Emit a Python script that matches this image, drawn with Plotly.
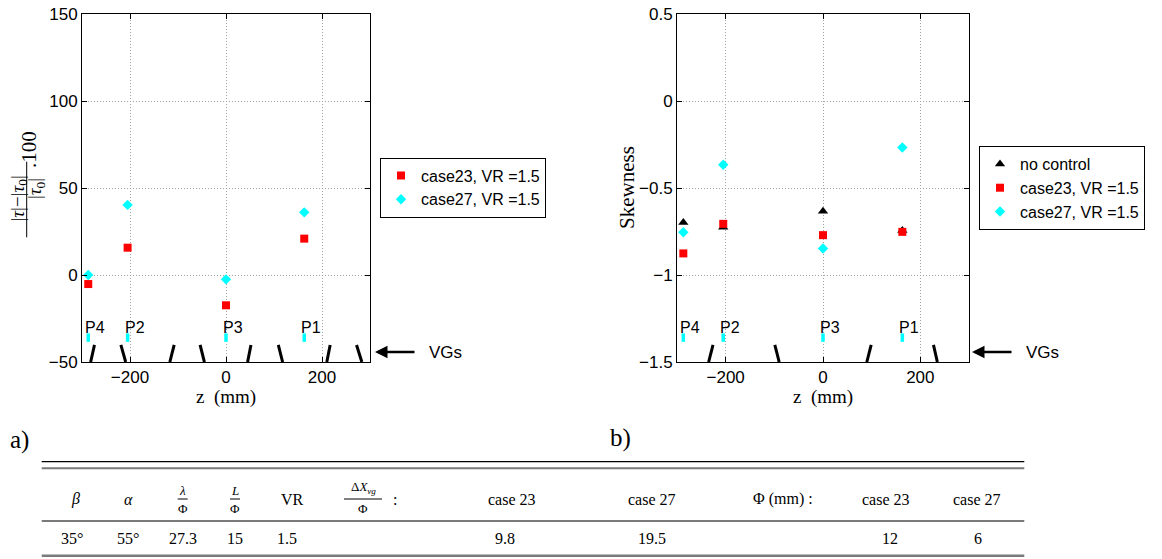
import plotly.graph_objects as go

W, H = 1162, 559

# ---------------- data ----------------
z_probe = [-287, -205, 0, 163]
probe_labels = ["P4", "P2", "P3", "P1"]

tau_case23 = [-5.2, 15.7, -17.4, 20.9]
tau_case27 = [0.0, 40.3, -2.5, 36.0]

skew_noctrl = [-0.698, -0.725, -0.633, -0.744]
skew_case23 = [-0.876, -0.706, -0.771, -0.752]
skew_case27 = [-0.754, -0.366, -0.848, -0.267]

# VG vane positions (z at top, z at wall)
vg_left_top = [-274, -219, -108, -54, 52, 109, 217, 272]
vg_left_bot = [-282, -209, -117, -45, 45, 118, 210, 283]
vg_right_top = [-226, -99, 99, 227]
vg_right_bot = [-235, -90, 90, 235]

# table
tab_header = ["β", "α", "λ/Φ", "L/Φ", "VR", "ΔX_vg/Φ :", "case 23", "case 27", "Φ (mm) :", "case 23", "case 27"]
tab_row = ["35°", "55°", "27.3", "15", "1.5", "", "9.8", "19.5", "", "12", "6"]

# ---------------- helpers ----------------
def px(x):
    return x / W

def py(y):
    return 1 - y / H

SANS = "Liberation Sans, Arial, sans-serif"
SERIF = "Liberation Serif, Times New Roman, serif"

fig = go.Figure()

fig.add_trace(go.Scatter(x=z_probe, y=tau_case23, mode="markers", name="case23, VR =1.5",
                         marker=dict(symbol="square", size=8, color="#ff0000"),
                         xaxis="x", yaxis="y", legend="legend"))
fig.add_trace(go.Scatter(x=z_probe, y=tau_case27, mode="markers", name="case27, VR =1.5",
                         marker=dict(symbol="diamond", size=8, color="#00ffff"),
                         xaxis="x", yaxis="y", legend="legend"))

fig.add_trace(go.Scatter(x=z_probe, y=skew_noctrl, mode="markers", name="no control",
                         marker=dict(symbol="triangle-up", size=9, color="black"),
                         xaxis="x2", yaxis="y2", legend="legend2"))
fig.add_trace(go.Scatter(x=z_probe, y=skew_case23, mode="markers", name="case23, VR =1.5",
                         marker=dict(symbol="square", size=8, color="#ff0000"),
                         xaxis="x2", yaxis="y2", legend="legend2"))
fig.add_trace(go.Scatter(x=z_probe, y=skew_case27, mode="markers", name="case27, VR =1.5",
                         marker=dict(symbol="diamond", size=8, color="#00ffff"),
                         xaxis="x2", yaxis="y2", legend="legend2"))

# probe markers
for xa, ya, yv in (("x", "y", -36), ("x2", "y2", -1.36)):
    fig.add_trace(go.Scatter(x=z_probe, y=[yv] * len(z_probe), mode="markers", showlegend=False,
                             marker=dict(symbol="line-ns", size=6,
                                         line=dict(width=3.5, color="#00ffff")),
                             xaxis=xa, yaxis=ya, hoverinfo="skip"))

def vg_xy(tops, bots, ytop, ybot):
    xs, ys = [], []
    for t, b in zip(tops, bots):
        xs += [t, b, None]
        ys += [ytop, ybot, None]
    return xs, ys

xs, ys = vg_xy(vg_left_top, vg_left_bot, -40.2, -50)
fig.add_trace(go.Scatter(x=xs, y=ys, mode="lines", line=dict(color="black", width=3),
                         showlegend=False, xaxis="x", yaxis="y", hoverinfo="skip"))
xs, ys = vg_xy(vg_right_top, vg_right_bot, -1.402, -1.5)
fig.add_trace(go.Scatter(x=xs, y=ys, mode="lines", line=dict(color="black", width=3),
                         showlegend=False, xaxis="x2", yaxis="y2", hoverinfo="skip"))

axis_common = dict(showline=True, linecolor="black", linewidth=1, mirror="ticks",
                   ticks="inside", ticklen=5, tickcolor="black", automargin=False,
                   ticklabeloverflow="allow",
                   showgrid=True, gridcolor="#a0a0a0", gridwidth=1, griddash="1px,2px",
                   zeroline=False, tickfont=dict(family=SANS, size=17, color="black"))

fig.update_layout(
    width=W, height=H,
    margin=dict(l=0, r=0, t=0, b=0, autoexpand=False),
    paper_bgcolor="white", plot_bgcolor="white",
    xaxis=dict(domain=[px(82), px(370)], range=[-300, 300], tickvals=[-200, 0, 200],
               anchor="y", **axis_common),
    yaxis=dict(domain=[py(362), py(14)], range=[-50, 150], tickvals=[-50, 0, 50, 100, 150],
               anchor="x", **axis_common),
    xaxis2=dict(domain=[px(677), px(969)], range=[-300, 300], tickvals=[-200, 0, 200],
                anchor="y2", **axis_common),
    yaxis2=dict(domain=[py(362), py(14)], range=[-1.5, 0.5], tickvals=[-1.5, -1, -0.5, 0, 0.5],
                ticktext=["\u22121.5", "\u22121", "\u22120.5", "0", "0.5"],
                anchor="x2", **axis_common),
    legend=dict(x=px(380), y=py(187.5), xanchor="left", yanchor="middle",
                bordercolor="black", borderwidth=1, bgcolor="white",
                font=dict(family=SANS, size=16, color="black"), tracegroupgap=0, itemwidth=30),
    legend2=dict(x=px(979), y=py(188), xanchor="left", yanchor="middle",
                 bordercolor="black", borderwidth=1, bgcolor="white",
                 font=dict(family=SANS, size=16, color="black"), tracegroupgap=0, itemwidth=30),
    showlegend=True,
)

ann = []
shapes = []

def text(x, y, t, font, angle=0, xanchor="center"):
    ann.append(dict(x=px(x), y=py(y), xref="paper", yref="paper", text=t, showarrow=False,
                    xanchor=xanchor, yanchor="middle", textangle=angle, font=font))

# probe labels
for xa, ya, yv in (("x", "y", -30.3), ("x2", "y2", -1.303)):
    for z, lab in zip(z_probe, probe_labels):
        ann.append(dict(x=z, y=yv, xref=xa, yref=ya, text=lab, showarrow=False,
                        xanchor="left", yanchor="middle", xshift=-5,
                        font=dict(family=SANS, size=16, color="black")))

# VG arrows
for (xh, xt, xtxt) in ((375, 416, 445), (972, 1013, 1042)):
    ann.append(dict(x=px(xh), y=py(352), xref="paper", yref="paper",
                    ax=xt - xh, ay=0, axref="pixel", ayref="pixel",
                    text="", showarrow=True, arrowhead=2, arrowsize=1, arrowwidth=2.5,
                    arrowcolor="black"))
    text(xtxt, 352, "VGs", dict(family=SANS, size=17, color="black"))

# x axis titles
for xc in (226, 823):
    text(xc, 397, "z&nbsp;&nbsp;(mm)", dict(family=SERIF, size=19, color="black"))

# y axis titles
text(627, 188, "Skewness", dict(family=SERIF, size=21, color="black"), angle=-90)
text(18.5, 199, "|<i>τ</i>|\u2212|<i>τ</i><sub>0</sub>|", dict(family=SERIF, size=19, color="black"), angle=-90)
text(36, 189, "|<i>τ</i><sub>0</sub>|", dict(family=SERIF, size=19, color="black"), angle=-90)
text(29, 150, ".100", dict(family=SERIF, size=21, color="black"), angle=-90)
shapes.append(dict(type="line", xref="paper", yref="paper", x0=px(26.7), x1=px(26.7),
                   y0=py(161.7), y1=py(237.3), line=dict(color="black", width=1)))

# panel labels
text(19, 440, "a)", dict(family=SERIF, size=25, color="black"))
text(620, 438, "b)", dict(family=SERIF, size=25, color="black"))

# table rules
TX0, TX1 = 41.7, 1024.3
for yy, col, wd in ((461.7, "black", 1.2), (468.3, "#7a7a7a", 2), (521, "#7a7a7a", 2), (555.7, "#7a7a7a", 2.5)):
    shapes.append(dict(type="line", xref="paper", yref="paper", x0=px(TX0), x1=px(TX1),
                       y0=py(yy), y1=py(yy), line=dict(color=col, width=wd)))

col_x = [75.7, 128, 182.7, 235, 292.7, 363, 511.7, 651.7, 783, 886, 976.7]
row_x = [71.7, 128, 183, 235, 286.7, 363, 505, 651.7, 783, 890, 978]
HY, RY = 499, 538
TF = dict(family=SERIF, size=16, color="black")
FF = dict(family=SERIF, size=13, color="black")

def frac(xc, num, den, yc=HY, barw=12, ytop=-9, ybot=9):
    text(xc, yc + ytop, num, FF)
    text(xc, yc + ybot, den, FF)
    shapes.append(dict(type="line", xref="paper", yref="paper", x0=px(xc - barw / 2),
                       x1=px(xc + barw / 2), y0=py(yc), y1=py(yc),
                       line=dict(color="black", width=1)))

for i, h in enumerate(tab_header):
    xc = col_x[i]
    if "ΔX" in h:
        frac(xc, "Δ<i>X</i><sub><i>vg</i></sub>", "Φ", barw=38, ytop=-11)
        text(xc + 32, HY, ":", TF)
    elif "/" in h:
        num, den = h.split("/")
        frac(xc, "<i>%s</i>" % num, den, barw=10)
    else:
        txt = "<i>%s</i>" % h if h in ("β", "α") else h
        text(xc, HY, txt, TF)

for i, v in enumerate(tab_row):
    if v:
        text(row_x[i], RY, v, TF)

fig.update_layout(annotations=ann, shapes=shapes)
fig.write_html("out.html", config={"displayModeBar": False},
               post_script="document.body.style.margin='0px';document.body.style.overflow='hidden';")
